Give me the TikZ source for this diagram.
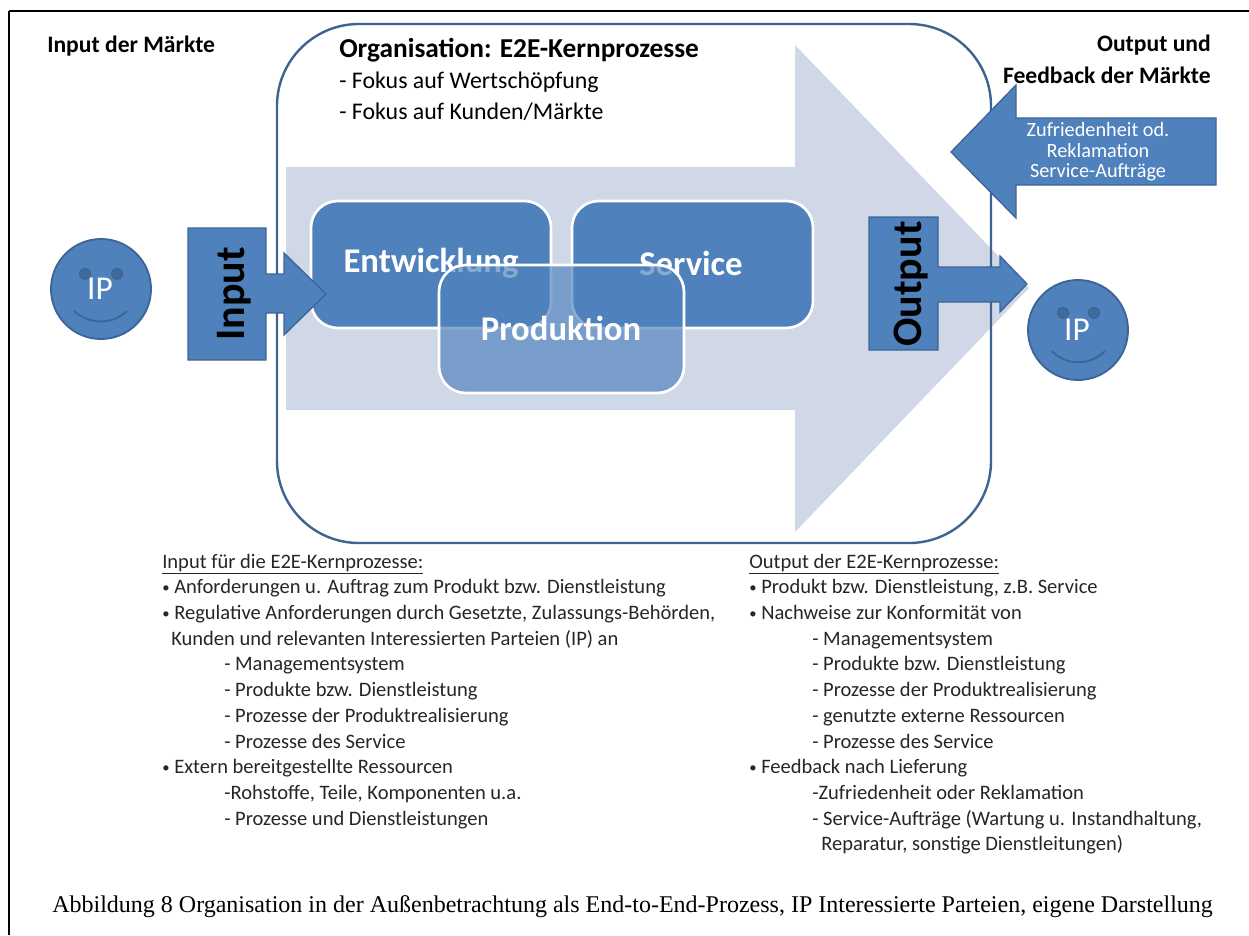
\documentclass[tikz,border=0pt]{standalone}
\usepackage{fontspec}
\setmainfont{Carlito}
\newfontfamily\capfont{Liberation Serif}
\definecolor{bluefill}{HTML}{4F81BD}
\definecolor{blueline}{HTML}{3D6596}
\definecolor{orgline}{HTML}{3F6490}
\definecolor{paleblue}{HTML}{D0D8E8}
\newcommand{\bul}{\makebox[9pt][l]{\raisebox{0.8pt}{\fontsize{11}{11}\selectfont •}}}
\tikzset{
  x=0.75pt,y=-0.75pt,
  headtxt/.style={font=\fontsize{17.7}{21}\selectfont\bfseries,inner sep=0,anchor=west},
  subtxt/.style={font=\fontsize{17.9}{21}\selectfont,inner sep=0,anchor=west},
  listtxt/.style={font=\fontsize{15.4}{18}\selectfont,inner sep=0,anchor=west,text=black!85,text height=10pt,text depth=3pt},
  arrowshape/.style={fill=bluefill,draw=blueline,line width=1pt,line join=miter},
  face/.style={circle,fill=bluefill,draw=blueline,line width=1.4pt,minimum size=75pt,inner sep=0},
  eye/.style={circle,fill=blueline!85!bluefill,draw=blueline,line width=0.8pt,minimum size=8.5pt,inner sep=0},
  procbox/.style={rounded corners=20pt,fill=bluefill,draw=white,line width=2pt},
  boxtxt/.style={text=white,font=\fontsize{26}{30}\selectfont\bfseries,inner sep=0},
  sidetxt/.style={rotate=90,font=\fontsize{31.5}{34}\selectfont\bfseries,inner sep=0},
  iptxt/.style={text=white,font=\fontsize{25}{28}\selectfont,inner sep=0},
}
\begin{document}
\begin{tikzpicture}
\useasboundingbox (0,0) rectangle (1249,935);
\fill[white] (0,0) rectangle (1249,935);
\draw[black,line width=1.3pt] (9,11) -- (1249,11);
\draw[black,line width=1.3pt] (9,11) -- (9,935);
% big pale arrow
\fill[paleblue] (286,167) -- (795,167) -- (795,45) -- (1029,288) -- (795,532) -- (795,410) -- (286,410) -- cycle;
% organisation box
\draw[orgline,line width=1.8pt] (277,106) arc[start angle=180,end angle=270,radius=82] -- (909,24) arc[start angle=270,end angle=360,radius=82] -- (991,461) arc[start angle=0,end angle=90,radius=82] -- (359,543) arc[start angle=90,end angle=180,radius=82] -- cycle;
% process boxes
\draw[procbox] (311,201) rectangle (551,328);
\node[boxtxt] (ent) at (431,263) {Entwicklung};
\draw[procbox] (572,201) rectangle (813,328);
\node[boxtxt] (srv) at (691,263) {Service};
\fill[bluefill,opacity=0.67,rounded corners=20pt] (439,265) rectangle (684,393);
\draw[procbox,fill=none] (439,265) rectangle (684,393);
\node[boxtxt] (prod) at (561,328) {Produktion};
% headings
\node[headtxt] (inm) at (47,46) {Input der Märkte};
\node[headtxt,anchor=east] (outm) at (1211,45) {Output und};
\node[headtxt,anchor=east] (feed) at (1211,75) {Feedback der Märkte};
\node[font=\fontsize{20.5}{24}\selectfont\bfseries,inner sep=0,anchor=west] (org) at (339,50) {Organisation: E2E-Kernprozesse};
\node[subtxt] (f1) at (339,82) {- Fokus auf Wertschöpfung};
\node[subtxt] (f2) at (339,112) {- Fokus auf Kunden/Märkte};
% left face
\node[face] (ip1) at (101,289) {};
\node[eye] (e1) at (85,274) {};
\node[eye] (e2) at (117,274) {};
\draw[blueline,line width=1.4pt] (74,311) .. controls (90,325) and (112,325) .. (127,311);
\node[iptxt] (ip1t) at (100,289) {IP};
% right face
\node[face] (ip2) at (1078,330) {};
\node[eye] (e3) at (1063,313) {};
\node[eye] (e4) at (1094,313) {};
\draw[blueline,line width=1.4pt] (1052,351) .. controls (1066,366) and (1090,366) .. (1105,351);
\node[iptxt] (ip2t) at (1077,330) {IP};
% input arrow
\draw[arrowshape] (188,228) -- (266,228) -- (266,274) -- (284,274) -- (284,253) -- (326,294) -- (284,335) -- (284,313) -- (266,313) -- (266,360) -- (188,360) -- cycle;
\node[sidetxt] (inp) at (234,294) {Input};
% output arrow
\draw[arrowshape] (869,217) -- (938,217) -- (938,267) -- (1000,267) -- (1000,256) -- (1027,284) -- (1000,312) -- (1000,302) -- (938,302) -- (938,350) -- (869,350) -- cycle;
\node[sidetxt] (outp) at (911,284) {Output};
% feedback arrow
\draw[arrowshape] (1216,118) -- (1016,118) -- (1016,85) -- (951,152) -- (1016,218) -- (1016,185) -- (1216,185) -- cycle;
\node[text=white,align=center,font=\fontsize{15.2}{15.4}\selectfont,inner sep=0] (fb) at (1098,152) {Zufriedenheit od.\\Reklamation\\Service-Aufträge};
% left list
\node[listtxt] at (162,563.5) {\underline{Input für die E2E-Kernprozesse:}};
\node[listtxt] at (162,589.2) {\bul Anforderungen u. Auftrag zum Produkt bzw. Dienstleistung};
\node[listtxt] at (162,614.9) {\bul Regulative Anforderungen durch Gesetzte, Zulassungs-Behörden,};
\node[listtxt] at (171,640.6) {Kunden und relevanten Interessierten Parteien (IP) an};
\node[listtxt] at (224,666.3) {- Managementsystem};
\node[listtxt] at (224,692) {- Produkte bzw. Dienstleistung};
\node[listtxt] at (224,717.7) {- Prozesse der Produktrealisierung};
\node[listtxt] at (224,743.4) {- Prozesse des Service};
\node[listtxt] at (162,769.1) {\bul Extern bereitgestellte Ressourcen};
\node[listtxt] at (224,794.8) {-Rohstoffe, Teile, Komponenten u.a.};
\node[listtxt] at (224,820.5) {- Prozesse und Dienstleistungen};
% right list
\node[listtxt] at (749,563.5) {\underline{Output der E2E-Kernprozesse:}};
\node[listtxt] at (749,589.2) {\bul Produkt bzw. Dienstleistung, z.B. Service};
\node[listtxt] at (749,614.9) {\bul Nachweise zur Konformität von};
\node[listtxt] at (812,640.6) {- Managementsystem};
\node[listtxt] at (812,666.3) {- Produkte bzw. Dienstleistung};
\node[listtxt] at (812,692) {- Prozesse der Produktrealisierung};
\node[listtxt] at (812,717.7) {- genutzte externe Ressourcen};
\node[listtxt] at (812,743.4) {- Prozesse des Service};
\node[listtxt] at (749,769.1) {\bul Feedback nach Lieferung};
\node[listtxt] at (812,794.8) {-Zufriedenheit oder Reklamation};
\node[listtxt] at (812,820.5) {- Service-Aufträge (Wartung u. Instandhaltung,};
\node[listtxt] at (821,846.2) {Reparatur, sonstige Dienstleitungen)};
% caption
\node[font=\capfont\fontsize{18}{20}\selectfont,inner sep=0,anchor=west] (cap) at (52,907) {Abbildung 8 Organisation in der Außenbetrachtung als End-to-End-Prozess, IP Interessierte Parteien, eigene Darstellung};
\end{tikzpicture}
\end{document}
